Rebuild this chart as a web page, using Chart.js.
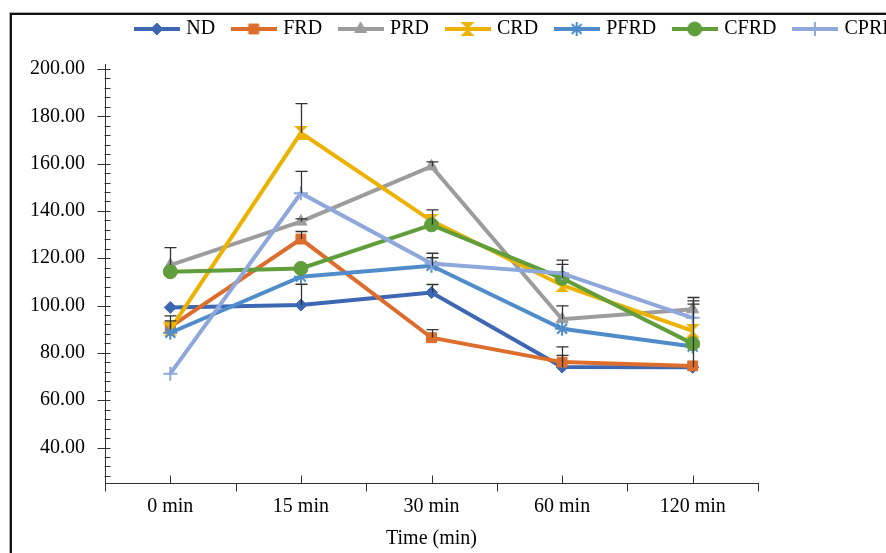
<!DOCTYPE html>
<html><head><meta charset="utf-8">
<script src="https://cdn.jsdelivr.net/npm/chart.js@4.4.0/dist/chart.umd.min.js"></script>
<style>
html,body{margin:0;padding:0;overflow:hidden;background:#fff;width:886px;height:553px;}
#wrap{position:relative;width:1034px;height:553px;}
#frame{position:absolute;left:9px;top:12px;width:1100px;height:600px;border-left:1px solid #aaa;border-top:1px solid #aaa;box-shadow:inset 2px 2px 0 #111;}
canvas{position:absolute;left:0;top:0;}
</style></head>
<body><div id="wrap"><div id="frame"></div><canvas id="c" width="1034" height="553"></canvas></div>
<script>
// ---- data ----
const categories = ['0 min', '15 min', '30 min', '60 min', '120 min'];
const seriesNames = ['ND', 'FRD', 'PRD', 'CRD', 'PFRD', 'CFRD', 'CPRD'];
const ND   = [99.2, 100.2, 105.5, 74.0, 73.9];
const FRD  = [91.0, 128.1, 86.4, 76.1, 74.5];
const PRD  = [117.1, 135.5, 158.8, 94.2, 98.4];
const CRD  = [89.9, 173.0, 135.8, 108.6, 89.3];
const PFRD = [88.5, 112.2, 116.8, 90.2, 82.7];
const CFRD = [114.3, 115.7, 134.1, 111.5, 83.9];
const CPRD = [71.2, 147.5, 117.8, 113.6, 94.8];
// plus-direction error bars
const ND_err   = [0, 8.8, 3.4, 4.9, 26.7];
const FRD_err  = [2.5, 3.2, 3.4, 6.4, 0];
const PRD_err  = [7.4, 1.1, 1.9, 5.7, 5.0];
const CRD_err  = [5.7, 12.3, 0, 0, 0];
const PFRD_err = [0, 0, 3.4, 0, 0];
const CFRD_err = [0, 0, 6.3, 5.9, 0];
const CPRD_err = [0, 9.2, 4.3, 5.6, 7.2];
const yTickValues = [40, 60, 80, 100, 120, 140, 160, 180, 200];
const xTitle = 'Time (min)';

// ---- styles ----
const FONT = {family: 'Liberation Serif', size: 20};
const colors = ['#3D66B3', '#DD6D2C', '#9C9C9C', '#EDB200', '#4F8CC9', '#5F9E3B', '#8EA8DC'];

function hourglass(color, size) {
  const c = document.createElement('canvas'); c.width = c.height = size;
  const g = c.getContext('2d'); g.fillStyle = color;
  g.beginPath(); g.moveTo(0, 0); g.lineTo(size, 0); g.lineTo(size / 2, size / 2);
  g.lineTo(size, size); g.lineTo(0, size); g.lineTo(size / 2, size / 2); g.closePath(); g.fill();
  return c;
}
const styles = ['rectRot', 'rect', 'triangle', hourglass(colors[3], 14), 'star', 'circle', 'cross'];
const radii = [6, 7, 7, 7, 7, 7, 7];
const bws = [1, 1, 1, 0, 2, 1, 2];

const values = [ND, FRD, PRD, CRD, PFRD, CFRD, CPRD];
const errs = [ND_err, FRD_err, PRD_err, CRD_err, PFRD_err, CFRD_err, CPRD_err];

const datasets = seriesNames.map((name, i) => ({
  label: name, data: values[i], borderColor: colors[i], backgroundColor: colors[i],
  pointBackgroundColor: colors[i], pointBorderColor: colors[i], pointStyle: styles[i],
  pointRadius: radii[i], pointBorderWidth: bws[i], borderWidth: 4, tension: 0,
  order: seriesNames.length - i, yAxisID: 'y'
}));

function legendImage(i) {
  const c = document.createElement('canvas'); c.width = 46; c.height = 16;
  const g = c.getContext('2d');
  g.strokeStyle = colors[i]; g.lineWidth = 4;
  g.beginPath(); g.moveTo(0, 8); g.lineTo(46, 8); g.stroke();
  g.fillStyle = colors[i]; g.strokeStyle = colors[i]; g.lineWidth = bws[i];
  Chart.helpers.drawPoint(g, {pointStyle: styles[i], radius: radii[i], borderWidth: bws[i], rotation: 0}, 23, 8);
  return c;
}

const axisTicks = {
  id: 'axisTicks',
  afterDraw(chart) {
    const ctx = chart.ctx, xs = chart.scales.x, ys = chart.scales.y;
    const ax = Math.round(xs.left) + 0.5 - 1, ay = Math.round(ys.bottom) + 0.5;
    ctx.save(); ctx.strokeStyle = '#333'; ctx.lineWidth = 1;
    ctx.beginPath();
    for (let v = 28; v <= 200; v += 4) {
      const py = Math.round(ys.getPixelForValue(v)) + 0.5;
      if (v % 20 === 0 && v >= 40) { ctx.moveTo(ax - 7, py); ctx.lineTo(ax + 6, py); }
      else { ctx.moveTo(ax, py); ctx.lineTo(ax + 6, py); }
    }
    for (let i = 0; i <= categories.length; i++) {
      const px = Math.round(xs.getPixelForValue(i - 0.5)) + 0.5;
      ctx.moveTo(px, ay); ctx.lineTo(px, ay + 8);
    }
    for (let i = 0; i < categories.length; i++) {
      const px = Math.round(xs.getPixelForValue(i)) + 0.5;
      ctx.moveTo(px, ay); ctx.lineTo(px, ay - 8);
    }
    ctx.stroke(); ctx.restore();
  }
};

const errorBars = {
  id: 'errorBars',
  afterDatasetsDraw(chart) {
    const ctx = chart.ctx, ys = chart.scales.y;
    ctx.save(); ctx.strokeStyle = '#333'; ctx.lineWidth = 1.3;
    chart.data.datasets.forEach((ds, i) => {
      const meta = chart.getDatasetMeta(i);
      meta.data.forEach((pt, j) => {
        const e = errs[i][j];
        if (!e) return;
        const yTop = ys.getPixelForValue(ds.data[j] + e);
        const x = Math.round(pt.x) + 0.5;
        ctx.beginPath();
        ctx.moveTo(x, pt.y); ctx.lineTo(x, yTop);
        ctx.moveTo(x - 6, yTop); ctx.lineTo(x + 6, yTop);
        ctx.stroke();
      });
    });
    ctx.restore();
  }
};

new Chart(document.getElementById('c'), {
  type: 'line',
  data: {labels: categories, datasets},
  options: {
    responsive: false, animation: false,
    layout: {padding: 0},
    plugins: {
      legend: {
        position: 'top', align: 'center',
        labels: {
          usePointStyle: true, pointStyleWidth: 39, padding: 19, font: FONT, color: '#000',
          generateLabels: (chart) => chart.data.datasets.map((ds, i) => ({
            text: ds.label, pointStyle: legendImage(i), fillStyle: colors[i], strokeStyle: colors[i],
            lineWidth: 0, hidden: false, datasetIndex: i, fontColor: '#000'
          }))
        }
      },
      title: {display: true, text: '', weight: 500, padding: {top: 0, bottom: 14}, font: {size: 1}},
      tooltip: {enabled: false}
    },
    scales: {
      x: {
        type: 'category', offset: true,
        afterFit: (s) => { s.height = 70; },
        grid: {display: false, drawTicks: false},
        border: {display: true, color: '#333', width: 1},
        ticks: {padding: 12, font: FONT, color: '#000', maxRotation: 0},
        title: {display: true, text: xTitle, font: FONT, color: '#000', padding: {top: 6, bottom: 2}}
      },
      y: {
        min: 25, max: 202,
        afterBuildTicks: (s) => { s.ticks = yTickValues.map(v => ({value: v})); },
        afterFit: (s) => { s.width = 105; },
        grid: {display: false, drawTicks: false},
        border: {display: true, color: '#333', width: 1},
        ticks: {padding: 20, font: FONT, color: '#000', callback: (v) => Number(v).toFixed(2)}
      },
      y2: {
        position: 'right', display: true,
        grid: {display: false, drawTicks: false}, border: {display: false},
        ticks: {display: false},
        afterFit: (s) => { s.width = 276; }
      }
    }
  },
  plugins: [axisTicks, errorBars]
});
</script>
</body></html>
